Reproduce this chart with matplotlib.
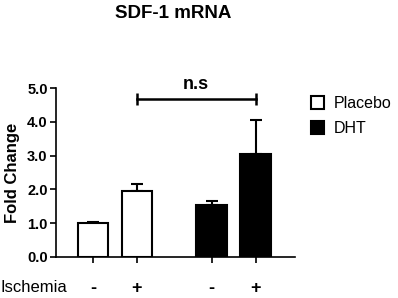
import matplotlib
matplotlib.use("Agg")
import matplotlib.pyplot as plt
from matplotlib.patches import Patch
from matplotlib.transforms import blended_transform_factory

plt.rcParams["font.family"] = ["Liberation Sans", "DejaVu Sans"]

groups = ["Placebo", "Placebo", "DHT", "DHT"]
ischemia = ["-", "+", "-", "+"]
fold_change = [1.00, 1.95, 1.55, 3.05]
sem = [0.03, 0.20, 0.10, 1.00]
group_colors = {"Placebo": "white", "DHT": "black"}
positions = [0, 1, 2.7, 3.7]
yticks = [0.0, 1.0, 2.0, 3.0, 4.0, 5.0]
ns_pair = (1, 3)
ns_level = 4.67

fig = plt.figure(figsize=(3.98, 2.98), dpi=100)
ax = fig.add_axes([0.1407, 0.1376, 0.6, 0.567])

ax.bar(
    positions,
    fold_change,
    width=0.7,
    color=[group_colors[g] for g in groups],
    edgecolor="black",
    linewidth=1.5,
    zorder=2,
)
ax.errorbar(
    positions,
    fold_change,
    yerr=[[0] * len(sem), sem],
    fmt="none",
    ecolor="black",
    elinewidth=1.5,
    capsize=4.3,
    capthick=1.5,
    zorder=1,
)

# n.s bracket
x1, x2 = positions[ns_pair[0]], positions[ns_pair[1]]
ax.plot([x1, x2], [ns_level, ns_level], color="black", lw=1.8,
        marker="|", markersize=8, mew=1.8, clip_on=False)
ax.text((x1 + x2) / 2, ns_level + 0.18, "n.s", ha="center", va="bottom",
        fontsize=13, fontweight="bold")

ax.set_xlim(-0.84, 4.59)
ax.set_ylim(0, 5)
ax.set_yticks(yticks)
ax.set_yticklabels([f"{v:.1f}" for v in yticks], fontsize=10.5,
                   fontweight="bold")
ax.set_xticks(positions)
ax.set_xticklabels([])
ax.tick_params(direction="out", length=4.5, width=1.2, pad=1.5)

for side in ["top", "right"]:
    ax.spines[side].set_visible(False)
for side in ["left", "bottom"]:
    ax.spines[side].set_linewidth(1.2)

ax.set_ylabel("Fold Change", fontsize=12, fontweight="bold", labelpad=5)

trans = blended_transform_factory(ax.transData, ax.transAxes)
for x, lab in zip(positions, ischemia):
    ax.text(x, -0.185, lab, transform=trans, ha="center", va="center",
            fontsize=13, fontweight="bold")
fig.text(0.0, 0.035, "Ischemia", ha="left", va="center", fontsize=12)

fig.text(0.435, 0.955, "SDF-1 mRNA", ha="center", va="center",
         fontsize=13.5, fontweight="bold")

handles = [Patch(facecolor=group_colors[g], edgecolor="black", linewidth=1.5)
           for g in ["Placebo", "DHT"]]
fig.legend(handles, ["Placebo", "DHT"], loc="upper left",
           bbox_to_anchor=(0.765, 0.70), frameon=False, fontsize=11.5,
           handlelength=0.85, handleheight=0.85, handletextpad=0.6,
           labelspacing=0.65, borderaxespad=0)

fig.savefig("out.png", dpi=100)
